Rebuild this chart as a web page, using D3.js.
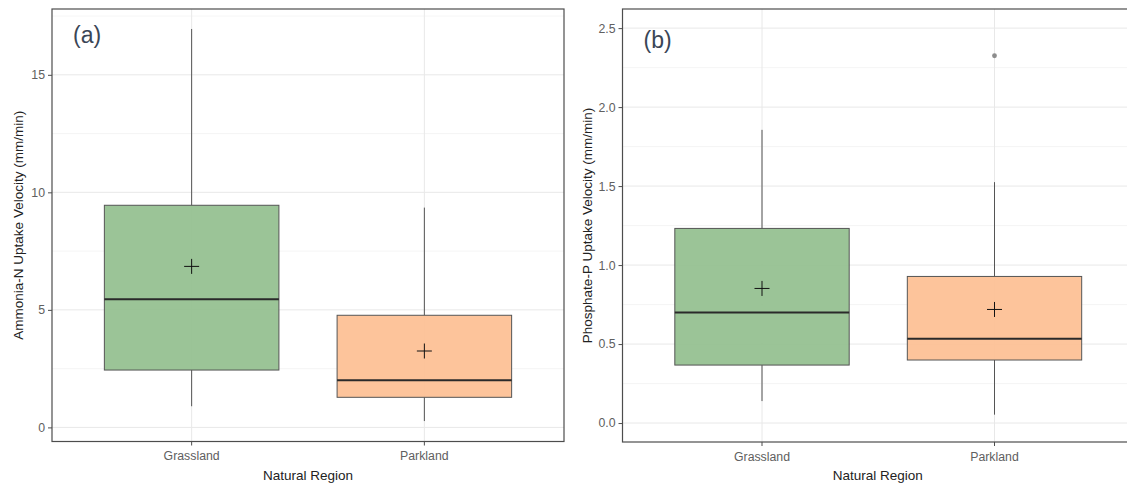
<!DOCTYPE html>
<html>
<head>
<meta charset="utf-8">
<script src="https://cdn.jsdelivr.net/npm/d3@7"></script>
<style>
  body { margin: 0; background: #fff; }
  svg { display: block; font-family: "Liberation Sans", Arial, sans-serif; }
</style>
</head>
<body>
<svg id="chart"></svg>
<script>
const width = 1127;
const height = 485;

const regions = ["Grassland", "Parkland"];
const fills = ["#93bf8f", "#fdbf93"];

// (a) Ammonia-N
const nh4Low = [0.9, 0.27];
const nh4Q1 = [2.44, 1.28];
const nh4Median = [5.45, 2.01];
const nh4Q3 = [9.45, 4.77];
const nh4High = [16.95, 9.35];
const nh4Mean = [6.85, 3.25];
const nh4Outliers = [[], []];
const nh4Ticks = [0, 5, 10, 15];
const nh4Minor = [2.5, 7.5, 12.5, 17.5];

// (b) Phosphate-P
const po4Low = [0.139, 0.053];
const po4Q1 = [0.367, 0.399];
const po4Median = [0.70, 0.534];
const po4Q3 = [1.232, 0.928];
const po4High = [1.856, 1.525];
const po4Mean = [0.852, 0.719];
const po4Outliers = [[], [2.325]];
const po4Ticks = [0, 0.5, 1.0, 1.5, 2.0, 2.5];
const po4Minor = [0.25, 0.75, 1.25, 1.75, 2.25];

const svg = d3.select("#chart").attr("width", width).attr("height", height);

function boxData(low, q1, med, q3, high, mean, outs) {
  return regions.map((r, i) => ({
    region: r, low: low[i], q1: q1[i], median: med[i], q3: q3[i],
    high: high[i], mean: mean[i], outliers: outs[i], fill: fills[i]
  }));
}

function drawPanel(opts) {
  const { left, right, top, bottom, domain, ticks, minor, fmt, data, ytitle, tag, tagY, titleX } = opts;

  // ggplot-style discrete axis: centers at 1,2 within [0.4,2.6]
  const xc = d3.scaleLinear().domain([0.4, 2.6]).range([left, right]);
  const cx = r => xc(regions.indexOf(r) + 1);
  const boxHalf = (xc(1.375) - xc(1));
  const y = d3.scaleLinear().domain(domain).range([bottom, top]);

  const g = svg.append("g");

  g.append("clipPath").attr("id", "clip" + tag)
    .append("rect").attr("x", left).attr("y", top).attr("width", right - left).attr("height", bottom - top);

  const plot = g.append("g").attr("clip-path", `url(#clip${tag})`);

  // grid
  plot.selectAll(".minor").data(minor).join("line")
    .attr("x1", left).attr("x2", right)
    .attr("y1", d => y(d)).attr("y2", d => y(d))
    .attr("stroke", "#f2f2f2").attr("stroke-width", 0.8);
  plot.selectAll(".major").data(ticks).join("line")
    .attr("x1", left).attr("x2", right)
    .attr("y1", d => y(d)).attr("y2", d => y(d))
    .attr("stroke", "#e8e8e8").attr("stroke-width", 1);
  plot.selectAll(".vgrid").data(regions).join("line")
    .attr("x1", d => cx(d)).attr("x2", d => cx(d))
    .attr("y1", top).attr("y2", bottom)
    .attr("stroke", "#e8e8e8").attr("stroke-width", 1);

  const boxes = plot.selectAll(".box").data(data).join("g");

  // whiskers
  boxes.append("line")
    .attr("x1", d => cx(d.region)).attr("x2", d => cx(d.region))
    .attr("y1", d => y(d.q3)).attr("y2", d => y(d.high))
    .attr("stroke", "#555").attr("stroke-width", 1);
  boxes.append("line")
    .attr("x1", d => cx(d.region)).attr("x2", d => cx(d.region))
    .attr("y1", d => y(d.q1)).attr("y2", d => y(d.low))
    .attr("stroke", "#555").attr("stroke-width", 1);

  boxes.append("rect")
    .attr("x", d => cx(d.region) - boxHalf)
    .attr("width", boxHalf * 2)
    .attr("y", d => y(d.q3))
    .attr("height", d => y(d.q1) - y(d.q3))
    .attr("fill", d => d.fill).attr("fill-opacity", 0.93)
    .attr("stroke", "#555").attr("stroke-width", 1);

  boxes.append("line")
    .attr("x1", d => cx(d.region) - boxHalf).attr("x2", d => cx(d.region) + boxHalf)
    .attr("y1", d => y(d.median)).attr("y2", d => y(d.median))
    .attr("stroke", "#2a2a2a").attr("stroke-width", 2);

  // outliers
  boxes.selectAll(".out").data(d => d.outliers.map(v => ({ v, r: d.region }))).join("circle")
    .attr("cx", d => cx(d.r)).attr("cy", d => y(d.v)).attr("r", 2.4)
    .attr("fill", "#8c8c8c");

  // mean crosses
  boxes.append("path")
    .attr("d", d => {
      const px = cx(d.region), py = y(d.mean), s = 7.5;
      return `M${px - s},${py}H${px + s}M${px},${py - s}V${py + s}`;
    })
    .attr("stroke", "#111").attr("stroke-width", 1).attr("fill", "none");

  // border
  g.append("rect")
    .attr("x", left).attr("y", top).attr("width", right - left).attr("height", bottom - top)
    .attr("fill", "none").attr("stroke", "#4d4d4d").attr("stroke-width", 1.2);

  // y axis
  const yAxis = g.append("g").attr("transform", `translate(${left},0)`)
    .call(d3.axisLeft(y).tickValues(ticks).tickFormat(fmt).tickSize(4).tickPadding(3));
  yAxis.select(".domain").remove();
  yAxis.selectAll("line").attr("stroke", "#4d4d4d");
  yAxis.selectAll("text").attr("fill", "#606060").attr("font-size", 12.3);

  // x axis
  const xAxis = g.append("g").attr("transform", `translate(0,${bottom})`);
  xAxis.selectAll("line").data(regions).join("line")
    .attr("x1", d => cx(d)).attr("x2", d => cx(d))
    .attr("y1", 0).attr("y2", 4).attr("stroke", "#4d4d4d");
  xAxis.selectAll("text").data(regions).join("text")
    .attr("x", d => cx(d)).attr("y", 18.5)
    .attr("text-anchor", "middle").attr("fill", "#606060").attr("font-size", 12.3)
    .text(d => d);

  g.append("text")
    .attr("x", (left + Math.min(right, width)) / 2 + (opts.xTitleShift || 0))
    .attr("y", bottom + 38)
    .attr("text-anchor", "middle").attr("fill", "#222").attr("font-size", 13.5)
    .text("Natural Region");

  g.append("text")
    .attr("transform", `translate(${titleX},${(top + bottom) / 2}) rotate(-90)`)
    .attr("text-anchor", "middle").attr("fill", "#222").attr("font-size", 13.5)
    .text(ytitle);

  g.append("text")
    .attr("x", left + 21).attr("y", tagY)
    .attr("fill", "#3a4656").attr("font-size", 23)
    .text(`(${tag})`);
}

drawPanel({
  left: 52, right: 564, top: 9, bottom: 441.5,
  domain: [-0.6, 17.8], ticks: nh4Ticks, minor: nh4Minor, fmt: d3.format("d"),
  data: boxData(nh4Low, nh4Q1, nh4Median, nh4Q3, nh4High, nh4Mean, nh4Outliers),
  ytitle: "Ammonia-N Uptake Velocity (mm/min)", tag: "a", tagY: 43, titleX: 23
});

drawPanel({
  left: 622.5, right: 1134, top: 9, bottom: 442,
  domain: [-0.12, 2.621], ticks: po4Ticks, minor: po4Minor, fmt: d3.format(".1f"),
  data: boxData(po4Low, po4Q1, po4Median, po4Q3, po4High, po4Mean, po4Outliers),
  ytitle: "Phosphate-P Uptake Velocity (mm/min)", tag: "b", tagY: 48, titleX: 592,
  xTitleShift: 3
});
</script>
</body>
</html>
